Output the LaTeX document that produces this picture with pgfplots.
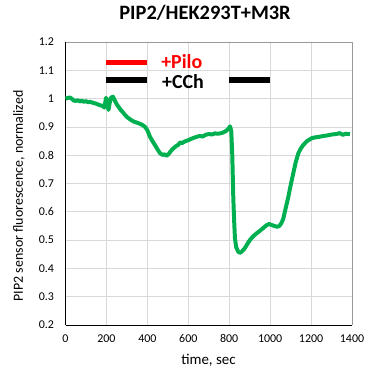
\documentclass[border=0pt]{standalone}
\usepackage{pgfplots}
\pgfplotsset{compat=1.18}
\usepackage{fontspec}
\setmainfont{Carlito}
\definecolor{exgreen}{HTML}{00B050}
\definecolor{gridgray}{HTML}{D9D9D9}
\begin{document}
\begin{tikzpicture}
\begin{axis}[
  at={(0,0)}, anchor=south west,
  scale only axis, width=286.5bp, height=283bp,
  xmin=0, xmax=1400, ymin=0.2, ymax=1.2,
  xtick={0,200,...,1400}, ytick={0.2,0.3,...,1.2},
  yticklabels={0.2,0.3,0.4,0.5,0.6,0.7,0.8,0.9,1,1.1,1.2},
  /pgf/number format/assume math mode=true,
  /pgf/number format/1000 sep={},
  xmajorgrids, ymajorgrids,
  grid style={gridgray, line width=0.8pt},
  major tick length=0pt,
  axis x line*=bottom, axis y line*=left,
  axis line style={black, line width=0.9pt},
  tick label style={font=\fontsize{12}{14}\selectfont},
  xticklabel style={yshift=-6bp},
  yticklabel style={xshift=-8bp},
  title={\bfseries PIP2/HEK293T+M3R},
  title style={at={(axis description cs:0.487,1.081)}, anchor=center, font=\fontsize{20.5}{22}\selectfont},
  xlabel={time, sec},
  xlabel style={at={(axis description cs:0.499,-0.124)}, anchor=center, font=\fontsize{15}{17}\selectfont},
  ylabel={PIP2 sensor fluorescence, normalized},
  ylabel style={at={(axis description cs:-0.163,0.456)}, anchor=center, rotate=0, font=\fontsize{14}{16}\selectfont},
  clip=false,
]
\draw[gray!80, line width=0.8pt] (rel axis cs:0,1) -- (rel axis cs:1,1) -- (rel axis cs:1,0);
\addplot[red, line width=5.5pt, forget plot] coordinates {(200,1.128) (400,1.128)};
\addplot[black, line width=5.5pt, forget plot] coordinates {(200,1.065) (400,1.065)};
\addplot[black, line width=5.5pt, forget plot] coordinates {(800,1.065) (1000,1.065)};
\node[anchor=west, inner sep=0pt, text depth=0pt, text=red, font=\fontsize{20}{22}\selectfont\bfseries] at (axis cs:467,1.131) {+Pilo};
\node[anchor=west, inner sep=0pt, text depth=0pt, text=black, font=\fontsize{20}{22}\selectfont\bfseries] at (axis cs:471,1.062) {+CCh};
\addplot[exgreen, line width=4pt, line join=round] coordinates {
(0,1.000) (10,1.002) (20,1.004) (30,1.000) (40,0.993) (50,0.992) (60,0.994) (70,0.990) (80,0.992) (90,0.989) (100,0.991) (110,0.987) (120,0.989) (130,0.986) (140,0.984) (150,0.982) (160,0.979) (170,0.976) (180,0.975) (190,0.968) (198,1.003) (205,0.985) (210,0.960) (216,0.985) (222,1.003) (232,1.007) (240,0.995) (250,0.980) (260,0.970) (270,0.960) (280,0.952) (290,0.943) (300,0.935) (315,0.927) (330,0.920) (345,0.916) (364,0.911) (380,0.905) (390,0.899) (400,0.888) (413,0.865) (425,0.850) (437,0.836) (450,0.820) (462,0.807) (475,0.801) (485,0.803) (494,0.798) (505,0.805) (515,0.815) (527,0.824) (540,0.832) (550,0.836) (560,0.845) (570,0.843) (584,0.849) (600,0.853) (615,0.858) (630,0.862) (641,0.865) (655,0.868) (670,0.866) (685,0.872) (700,0.875) (715,0.873) (730,0.877) (745,0.876) (755,0.877) (770,0.880) (785,0.886) (796,0.893) (804,0.902) (810,0.885) (815,0.800) (820,0.648) (824,0.570) (828,0.506) (834,0.475) (844,0.459) (852,0.455) (861,0.459) (875,0.470) (890,0.488) (901,0.500) (915,0.512) (934,0.524) (950,0.533) (965,0.542) (983,0.553) (995,0.557) (1005,0.554) (1020,0.550) (1035,0.547) (1045,0.550) (1055,0.560) (1064,0.575) (1075,0.610) (1089,0.653) (1100,0.693) (1113,0.736) (1125,0.775) (1138,0.807) (1150,0.824) (1162,0.836) (1180,0.850) (1203,0.860) (1220,0.863) (1240,0.865) (1260,0.868) (1280,0.870) (1300,0.873) (1325,0.875) (1340,0.878) (1355,0.872) (1370,0.876) (1390,0.874)
};
\end{axis}
\pgfresetboundingbox
\path[use as bounding box] (-65.5bp,-49bp) rectangle (300.5bp,325bp);
\end{tikzpicture}
\end{document}
